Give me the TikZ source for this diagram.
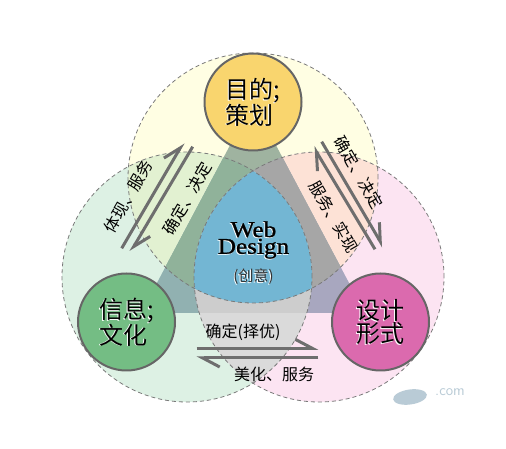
\documentclass[tikz,border=0pt]{standalone}
\usepackage{fontspec}
\setmainfont{Liberation Serif}
\newfontfamily\cjk{Noto Sans CJK SC}
\newfontfamily\wdfont[FakeStretch=1.12,FakeBold=1.2]{Liberation Serif}
\usetikzlibrary{arrows.meta}
\newcommand\shtxt[1]{\leavevmode\rlap{\hspace{-0.8pt}\raisebox{-0.8pt}[0pt][0pt]{\textcolor{white}{#1}}}#1}
\definecolor{topC}{HTML}{FFFEE3}
\definecolor{leftC}{HTML}{DDF1E4}
\definecolor{rightC}{HTML}{FCE4F2}
\definecolor{TLc}{HTML}{E2F1D1}
\definecolor{TRc}{HTML}{FDE2D6}
\definecolor{LRc}{HTML}{DADADA}
\definecolor{triT}{HTML}{9FB3A0}
\definecolor{triL}{HTML}{91B1B1}
\definecolor{triR}{HTML}{A8A7BF}
\definecolor{triTL}{HTML}{90B29A}
\definecolor{triTR}{HTML}{A6A6A6}
\definecolor{triLR}{HTML}{CDCDCD}
\definecolor{blueC}{HTML}{73B6D3}
\definecolor{dashgray}{HTML}{7A7A7A}
\definecolor{arrgray}{HTML}{6E6E6E}
\definecolor{nodeborder}{HTML}{666666}
\definecolor{yellowN}{HTML}{F9D56E}
\definecolor{greenN}{HTML}{74BD84}
\definecolor{pinkN}{HTML}{DB6AAE}
\definecolor{wmark}{HTML}{B9CBD6}
\begin{document}
\begin{tikzpicture}[x=1pt,y=1pt,
  arr/.style={draw=arrgray, line width=3pt, -{Straight Barb[harpoon,length=17pt,width=18pt]}},
  lbl/.style={font=\cjk\fontsize{16}{16}\selectfont, inner sep=0pt},
  bignode/.style={circle, draw=nodeborder, line width=2pt, minimum size=97pt, inner sep=0pt,
     font=\cjk\fontsize{24}{23}\selectfont, align=left},
  wd/.style={font=\wdfont\fontsize{22.5}{16.8}\selectfont, inner sep=0pt, align=center},
  dashc/.style={draw=dashgray, line width=0.8pt, dash pattern=on 4pt off 3pt}]
\useasboundingbox (0,0) rectangle (506,449);
\fill[white] (0,0) rectangle (506,449);
\coordinate (cT) at (253,271);
\coordinate (cL) at (187,172);
\coordinate (cR) at (319,172);
% base circle fills
\fill[topC] (cT) circle[radius=125];
\fill[leftC] (cL) circle[radius=125];
\fill[rightC] (cR) circle[radius=125];
\begin{scope}
  \clip (cT) circle[radius=125];
  \fill[TLc] (cL) circle[radius=125];
  \fill[TRc] (cR) circle[radius=125];
\end{scope}
\begin{scope}
  \clip (cL) circle[radius=125];
  \fill[LRc] (cR) circle[radius=125];
\end{scope}
% triangle
\begin{scope}
  \clip (253,347) -- (141,136) -- (365,136) -- cycle;
  \fill[triT] (cT) circle[radius=125];
  \fill[triL] (cL) circle[radius=125];
  \fill[triR] (cR) circle[radius=125];
  \begin{scope}
    \clip (cT) circle[radius=125];
    \fill[triTL] (cL) circle[radius=125];
    \fill[triTR] (cR) circle[radius=125];
  \end{scope}
  \begin{scope}
    \clip (cL) circle[radius=125];
    \fill[triLR] (cR) circle[radius=125];
  \end{scope}
\end{scope}
\begin{scope}
  \clip (cT) circle[radius=125];
  \clip (cL) circle[radius=125];
  \fill[blueC] (cR) circle[radius=125];
\end{scope}
% dashed outlines
\draw[dashc] (cT) circle[radius=125];
\draw[dashc] (cL) circle[radius=125];
\draw[dashc] (cR) circle[radius=125];
% arrows
\coordinate (lo1) at (121.7,200.7); \coordinate (lo2) at (183.3,306.3);
\coordinate (li1) at (192.7,302.3); \coordinate (li2) at (130.7,197.3);
\coordinate (ro1) at (321.7,307.3); \coordinate (ro2) at (383.3,202.3);
\coordinate (ri1) at (375,199.7);   \coordinate (ri2) at (313.3,302.3);
\coordinate (bt1) at (196.7,100.7); \coordinate (bt2) at (318.3,100.7);
\coordinate (bb1) at (318.3,91);    \coordinate (bb2) at (196.7,91);
\draw[arr] (lo1) -- (lo2);
\draw[arr] (li1) -- (li2);
\draw[arr] (ro1) -- (ro2);
\draw[arr] (ri1) -- (ri2);
\draw[arr] (bt1) -- (bt2);
\draw[arr] (bb1) -- (bb2);
% arrow labels
\node[lbl, rotate=60] (lab1) at (128.5,252.5) {体现、服务};
\node[lbl, rotate=60] (lab2) at (187.5,250.5) {确定、决定};
\node[lbl, rotate=-60] (lab3) at (359,276.5) {确定、决定};
\node[lbl, rotate=-60] (lab4) at (333.5,232) {服务、实现};
\node[lbl] (lab5) at (243,117) {确定(择优)};
\node[lbl] (lab6) at (274,75) {美化、服务};
% big nodes
\node[bignode, fill=yellowN] (plan) at (253,347) {\shtxt{目的;}\\\shtxt{策划}};
\node[bignode, fill=greenN] (info) at (126.5,127) {\shtxt{信息;}\\\shtxt{文化}};
\node[bignode, fill=pinkN] (form) at (380.5,127) {\shtxt{设计}\\\shtxt{形式}};
% center text
\node[wd] (webdesign) at (253.5,209) {\shtxt{Web}\\\shtxt{Design}};
\node[lbl, font=\cjk\fontsize{15}{15}\selectfont, text=black!80] (idea) at (253.5,172) {\shtxt{(创意)}};
% watermark
\fill[wmark, rotate around={8:(410,52)}] (410,52) ellipse[x radius=17, y radius=7.5];
\node[font=\sffamily\fontsize{15}{15}\selectfont, text=wmark, inner sep=0pt] (wm) at (450,57) {.com};
\end{tikzpicture}
\end{document}
